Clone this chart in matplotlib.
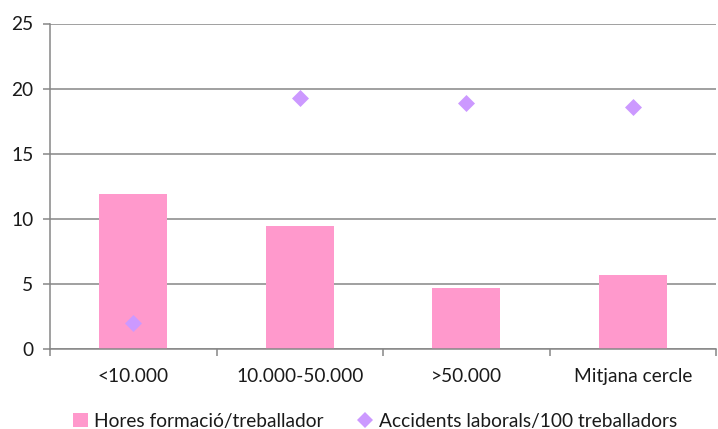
import matplotlib
matplotlib.use("Agg")
import matplotlib.pyplot as plt
from matplotlib.lines import Line2D
from matplotlib.patches import Patch
import numpy as np

categories = ["<10.000", "10.000-50.000", ">50.000", "Mitjana cercle"]
hores_formacio = [11.9, 9.4, 4.7, 5.7]
accidents = [2.0, 19.25, 18.85, 18.55]
y_ticks = [0, 5, 10, 15, 20, 25]

bar_color = "#FF99CC"
diamond_color = "#CC99FF"
grid_color = "#868686"
text_color = "#1a1a1a"

plt.rcParams["font.family"] = ["Lato", "DejaVu Sans"]
fs = 13.8

fig = plt.figure(figsize=(7.18, 4.29), dpi=100)
ax = fig.add_axes([50 / 718, 1 - 348.7 / 429, 666 / 718, (348.7 - 23.5) / 429])

x = np.arange(len(categories))
ax.bar(x, hores_formacio, width=0.41, color=bar_color, zorder=2)
ax.scatter(x, accidents, marker="D", s=75, color=diamond_color, zorder=3, linewidths=0)

ax.set_xlim(-0.5, len(categories) - 0.5)
ax.set_ylim(0, 25)
ax.set_yticks(y_ticks)
ax.yaxis.grid(True, color=grid_color, linewidth=1.1, zorder=0)
ax.set_axisbelow(True)

for side in ["top", "right"]:
    ax.spines[side].set_visible(False)
for side in ["left", "bottom"]:
    ax.spines[side].set_color(grid_color)
    ax.spines[side].set_linewidth(1.1)

# category labels centered, ticks at category boundaries
ax.set_xticks(x)
ax.set_xticklabels(categories)
ax.tick_params(axis="x", which="major", length=0, pad=14, labelsize=fs, labelcolor=text_color)
ax.set_xticks(np.arange(len(categories) + 1) - 0.5, minor=True)
ax.tick_params(axis="x", which="minor", length=5, color=grid_color, width=1.1)
ax.tick_params(axis="y", length=5, color=grid_color, width=1.1, pad=7, labelsize=fs, labelcolor=text_color)

handles = [
    Patch(facecolor=bar_color, edgecolor="none", label="Hores formació/treballador"),
    Line2D([], [], marker="D", linestyle="none", markersize=8, color=diamond_color,
           markeredgewidth=0, label="Accidents laborals/100 treballadors"),
]
fig.legend(handles=handles, loc="lower center", bbox_to_anchor=(0.522, -0.042), ncol=2,
           frameon=False, fontsize=fs, handlelength=0.8, handleheight=0.8, handletextpad=0.3,
           columnspacing=1.8, labelcolor=text_color)

fig.savefig("out.png", dpi=100)
